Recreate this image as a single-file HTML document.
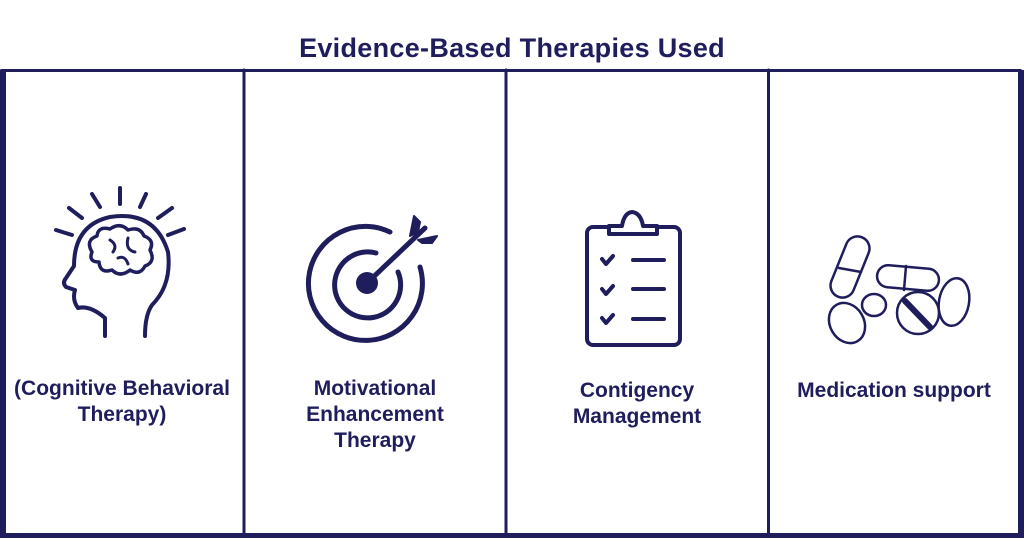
<!DOCTYPE html>
<html><head><style>
body{margin:0;width:1024px;height:538px;background:#fff;overflow:hidden;position:relative;font-family:"Liberation Sans",sans-serif;color:#1f1d5c}
.t{position:absolute;font-weight:bold;text-align:center;white-space:nowrap}
</style></head><body>
<div class="t" style="left:0;width:1024px;top:33px;font-size:27px;letter-spacing:0.3px">Evidence-Based Therapies Used</div>
<svg width="1024" height="538" style="position:absolute;left:0;top:0" fill="none" stroke="#1f1d5c" stroke-linecap="round" stroke-linejoin="round">
<rect x="1.5" y="70.5" width="1019" height="464" stroke-width="3" stroke-linecap="butt"/>
<rect x="0" y="70" width="6" height="468" fill="#1f1d5c" stroke="none"/>
<rect x="1018" y="70" width="6" height="468" fill="#1f1d5c" stroke="none"/>
<rect x="0" y="533" width="1024" height="5" fill="#1f1d5c" stroke="none"/>
<line x1="244" y1="70" x2="244" y2="535" stroke-width="3"/>
<line x1="506" y1="70" x2="506" y2="535" stroke-width="3"/>
<line x1="768.5" y1="70" x2="768.5" y2="535" stroke-width="3"/>
<g stroke-width="4">
<line x1="120" y1="188" x2="120" y2="204"/><line x1="92" y1="194" x2="100" y2="207"/><line x1="146" y1="194" x2="140" y2="207"/>
<line x1="69" y1="208" x2="82" y2="218"/><line x1="172" y1="208" x2="158" y2="218"/><line x1="56" y1="230" x2="72" y2="235"/><line x1="184" y1="229" x2="168" y2="235"/>
<path d="M105 336 L105 318 Q90 305 78 308 Q72 300 75 290 L66 287 Q62 283 66 278 L74 266 Q74 225 110 217 Q155 210 168 252 Q172 285 152 305 Q145 315 145 336"/>
<path d="M92 252 Q85 240 97 236 Q98 226 110 229 Q120 222 128 230 Q140 226 144 236 Q155 240 150 250 Q156 262 145 266 Q140 276 130 270 Q120 278 112 270 Q100 274 99 262 Q88 262 92 252 Z" stroke-width="3.5"/>
<path d="M110 240 Q118 245 113 252 M128 238 Q125 250 135 252 M118 258 Q125 255 128 264" stroke-width="3"/>
</g>
<g stroke-width="5">
<path d="M390 232 A57 57 0 1 0 420 267"/>
<path d="M376 253 A33 33 0 1 0 398 272"/>
<circle cx="367" cy="283" r="11" fill="#1f1d5c" stroke="none"/>
<line x1="367" y1="283" x2="425" y2="228"/>
<path d="M410 236 L414 216 L420 222 L418 232 Z M418 240 L437 236 L432 243 L422 243 Z" fill="#1f1d5c" stroke-width="2"/>
</g>
<g stroke-width="4">
<rect x="587" y="227" width="93" height="118" rx="6"/>
<path d="M609 234 L609 226 L622 226 Q624 213 632 212 Q641 213 643 226 L657 226 L657 234 Z" fill="#fff"/>
<path d="M602 259 L606 264 L613 256 M602 289 L606 294 L613 286 M602 318 L606 323 L613 315"/>
<line x1="633" y1="260" x2="664" y2="260"/><line x1="633" y1="289" x2="664" y2="289"/><line x1="633" y1="319" x2="664" y2="319"/>
</g>
<g stroke-width="2.5">
<rect x="838" y="235" width="24" height="64" rx="12" transform="rotate(22 850 267)"/>
<line x1="839" y1="268" x2="861" y2="272"/>
<rect x="877" y="267" width="62" height="22" rx="11" transform="rotate(5 908 278)"/>
<line x1="906" y1="266" x2="904" y2="290"/>
<ellipse cx="954" cy="302" rx="15" ry="24" transform="rotate(10 954 302)"/>
<ellipse cx="874" cy="305" rx="12" ry="11"/>
<ellipse cx="918" cy="313" rx="21" ry="21"/>
<line x1="905" y1="301" x2="930" y2="327" stroke-width="6"/>
<ellipse cx="847" cy="323" rx="17" ry="21" transform="rotate(-30 847 323)"/>
</g>
</svg>
<div class="t" style="left:0;width:244px;top:376px;font-size:21px;line-height:26px">(Cognitive Behavioral<br>Therapy)</div>
<div class="t" style="left:244px;width:262px;top:376px;font-size:21px;line-height:26px">Motivational<br>Enhancement<br>Therapy</div>
<div class="t" style="left:506px;width:262px;top:378px;font-size:21px;line-height:26px">Contigency<br>Management</div>
<div class="t" style="left:768px;width:252px;top:378px;font-size:21px;line-height:26px">Medication support</div>
</body></html>
